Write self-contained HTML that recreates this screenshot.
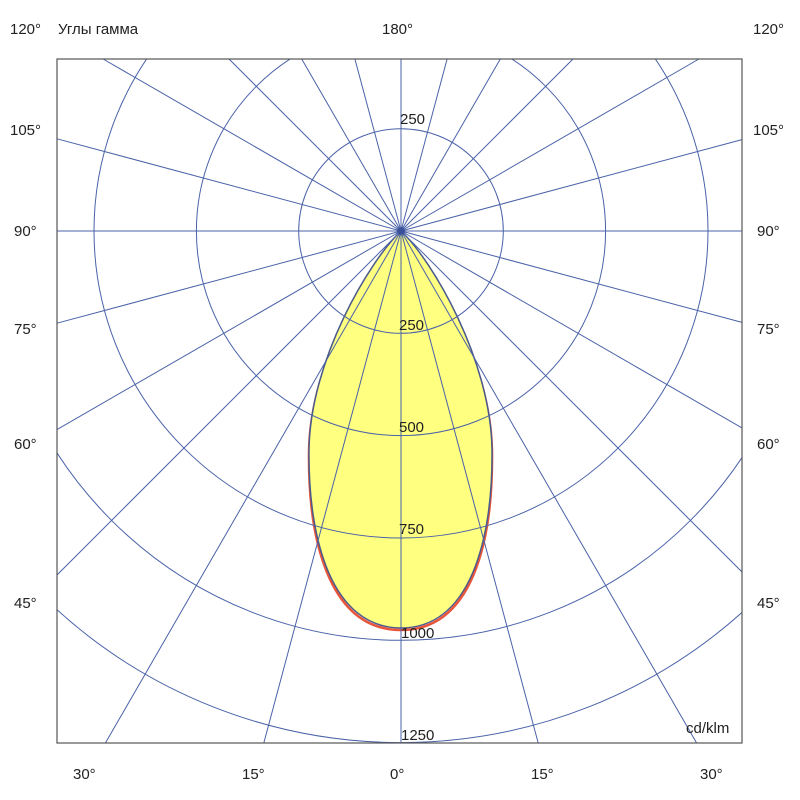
<!DOCTYPE html>
<html><head><meta charset="utf-8"><style>
html,body{margin:0;padding:0;background:#fff;width:800px;height:800px;overflow:hidden;}
svg{display:block;overflow:hidden;}
svg text{font-family:"Liberation Sans",sans-serif;font-size:15px;fill:#222;}
</style></head><body>
<svg width="800" height="800" viewBox="0 0 800 800">
<defs><clipPath id="c"><rect x="57" y="59" width="685" height="684"/></clipPath></defs>
<rect x="0" y="0" width="800" height="800" fill="#fff"/>
<path d="M401,233 C370,262 310,362 309,452 C308,542 330,630 401,630 C472,630 493,542 492,452 C491,362 432,262 401,233 Z" fill="none" stroke="#e8553a" stroke-width="2.5"/>
<path d="M401,231 C370,260 310,360 309,450 C308,540 332,628 401,628 C470,628 493,540 492,450 C491,360 432,260 401,231 Z" fill="#ffff80" stroke="#4a5a8c" stroke-width="1.5"/>
<g stroke="#4a62a8" stroke-width="1" fill="none">
<g clip-path="url(#c)">
<circle cx="401" cy="231" r="102.3"/>
<circle cx="401" cy="231" r="204.6"/>
<circle cx="401" cy="231" r="307"/>
<circle cx="401" cy="231" r="409.3"/>
<circle cx="401" cy="231" r="511.6"/>
</g>
<path d="M401,231L401,743M401,231L263.8,743M401,231L538.2,743M401,231L105.4,743M401,231L696.6,743M401,231L57,575M401,231L742,572M401,231L57,429.6M401,231L742,427.9M401,231L57,323.2M401,231L742,322.4M57,231L742,231
M401,231L401,59M401,231L354.9,59M401,231L447.1,59M401,231L301.7,59M401,231L500.3,59M401,231L229,59M401,231L573,59M401,231L103.1,59M401,231L698.9,59M401,231L57,138.8M401,231L742,139.6"/>
</g>
<circle cx="401" cy="231" r="3.5" fill="#3a4f9a"/>
<rect x="57" y="59" width="685" height="684" fill="none" stroke="#555" stroke-width="1.2"/>
<text x="400" y="124">250</text>
<text x="399" y="330">250</text>
<text x="399" y="432">500</text>
<text x="399" y="534">750</text>
<text x="401" y="638">1000</text>
<text x="401" y="740">1250</text>
<text x="686" y="733">cd/klm</text>
<text x="10" y="34">120°</text>
<text x="58" y="34">Углы гамма</text>
<text x="382" y="34">180°</text>
<text x="753" y="34">120°</text>
<text x="10" y="135">105°</text>
<text x="753" y="135">105°</text>
<text x="14" y="236">90°</text>
<text x="757" y="236">90°</text>
<text x="14" y="334">75°</text>
<text x="757" y="334">75°</text>
<text x="14" y="449">60°</text>
<text x="757" y="449">60°</text>
<text x="14" y="608">45°</text>
<text x="757" y="608">45°</text>
<text x="73" y="779">30°</text>
<text x="242" y="779">15°</text>
<text x="390" y="779">0°</text>
<text x="531" y="779">15°</text>
<text x="700" y="779">30°</text>
</svg>
</body></html>
